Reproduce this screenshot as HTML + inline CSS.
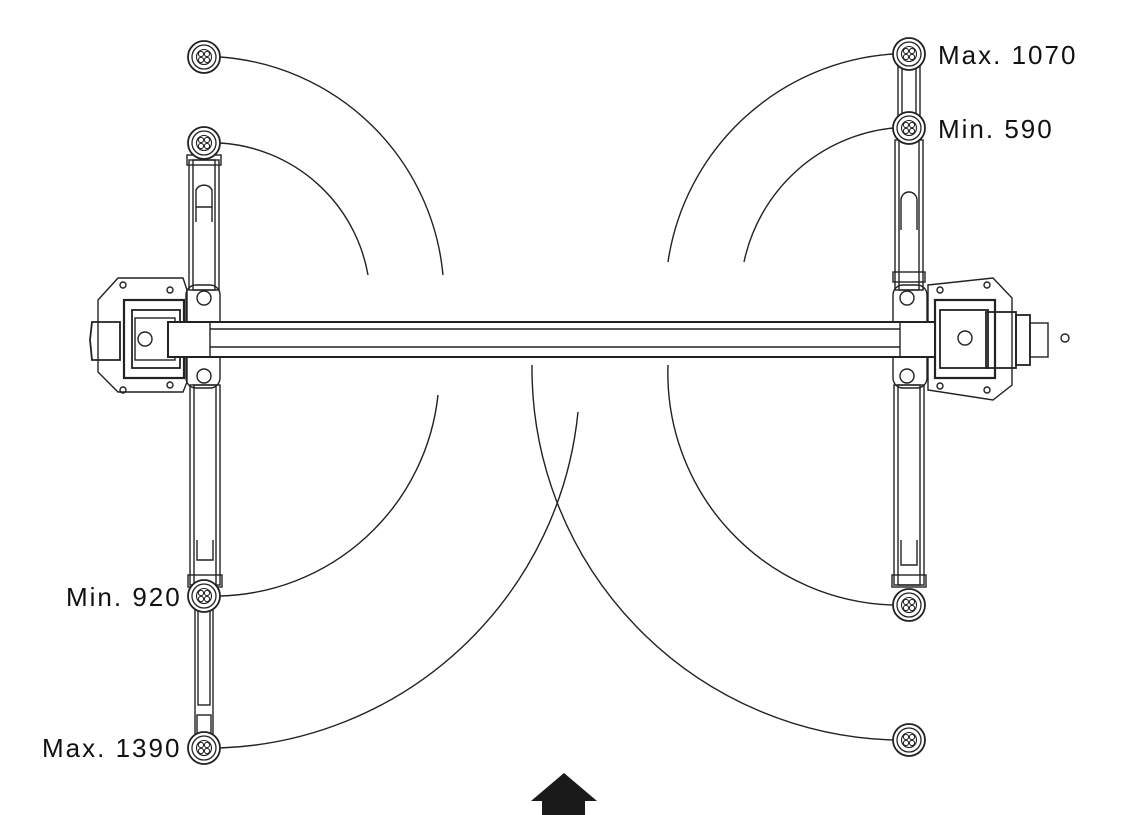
<!DOCTYPE html>
<html><head><meta charset="utf-8"><style>
html,body{margin:0;padding:0;background:#fff}
svg{display:block}
text{font-family:"Liberation Sans",sans-serif;font-size:26px;letter-spacing:2px;fill:#111}
</style></head><body>
<svg width="1127" height="815" viewBox="0 0 1127 815" xmlns="http://www.w3.org/2000/svg">
<defs>
<g id="pad">
<circle r="16" fill="#fff" stroke="#222" stroke-width="1.8"/>
<circle r="12" fill="none" stroke="#222" stroke-width="1.3"/>
<circle r="7.5" fill="none" stroke="#222" stroke-width="1.1"/>
<circle cx="-3" cy="-3" r="2.6" fill="none" stroke="#222" stroke-width="1"/>
<circle cx="3" cy="-3" r="2.6" fill="none" stroke="#222" stroke-width="1"/>
<circle cx="-3" cy="3" r="2.6" fill="none" stroke="#222" stroke-width="1"/>
<circle cx="3" cy="3" r="2.6" fill="none" stroke="#222" stroke-width="1"/>
</g>
</defs>
<g fill="none" stroke="#222" stroke-width="1.4">
<path d="M220 57 A241 241 0 0 1 443 275"/>
<path d="M220 143 A160 160 0 0 1 368 275"/>
<path d="M220 596 A225 225 0 0 0 438 395"/>
<path d="M220 748 A373 373 0 0 0 578 412"/>
<path d="M893 54 A244 244 0 0 0 668 262"/>
<path d="M893 128 A170 170 0 0 0 744 262"/>
<path d="M893 605 A232 232 0 0 1 668 365"/>
<path d="M893 740 A372 372 0 0 1 532 365"/>

<rect x="189" y="160" width="30" height="130"/>
<rect x="193" y="160" width="22" height="130"/>
<path d="M196 222 V190 A9 9 0 0 1 212 190 V222 M196 207 H212"/>
<rect x="187" y="155" width="34" height="10"/>
<rect x="190" y="385" width="30" height="200"/>
<rect x="194" y="385" width="22" height="200"/>
<path d="M197 540 V560 H213 V540"/>
<rect x="188" y="575" width="34" height="12"/>
<rect x="195" y="605" width="18" height="135"/>
<rect x="198" y="605" width="12" height="100"/>
<rect x="197" y="715" width="14" height="18"/>

<rect x="898" y="65" width="22" height="55"/>
<rect x="902" y="65" width="14" height="55"/>
<rect x="895" y="140" width="28" height="150"/>
<rect x="899" y="140" width="20" height="150"/>
<path d="M901 230 V200 A8 8 0 0 1 917 200 V230"/>
<rect x="893" y="272" width="32" height="10"/>
<rect x="894" y="385" width="30" height="200"/>
<rect x="898" y="385" width="22" height="200"/>
<path d="M901 540 V565 H917 V540"/>
<rect x="892" y="575" width="34" height="12"/>

<path d="M98 300 L118 278 L183 278 L187 290 L187 382 L183 392 L118 392 L98 372 Z"/>
<path d="M92 322 H120 V360 H92 L90 340 Z" stroke-width="1.8"/>
<rect x="124" y="300" width="60" height="78" stroke-width="2.2"/>
<rect x="132" y="310" width="48" height="58" stroke-width="1.8"/>
<rect x="135" y="318" width="40" height="42"/>
<circle cx="145" cy="339" r="7"/>
<rect x="186" y="285" width="34" height="103" rx="10"/>
<circle cx="204" cy="298" r="7"/>
<circle cx="204" cy="376" r="7"/>
<circle cx="123" cy="285" r="3"/><circle cx="170" cy="290" r="3"/>
<circle cx="123" cy="390" r="3"/><circle cx="170" cy="385" r="3"/>

<path d="M928 285 L993 278 L1012 298 L1012 385 L993 400 L928 390 Z"/>
<rect x="935" y="300" width="60" height="78" stroke-width="2.2"/>
<rect x="940" y="310" width="48" height="58" stroke-width="1.8"/>
<circle cx="965" cy="338" r="7"/>
<rect x="986" y="312" width="30" height="56" stroke-width="1.8"/>
<rect x="1016" y="315" width="14" height="50" stroke-width="1.8"/>
<rect x="1030" y="323" width="18" height="34"/>
<circle cx="1065" cy="338" r="4"/>
<rect x="893" y="285" width="34" height="103" rx="10"/>
<circle cx="907" cy="298" r="7"/>
<circle cx="907" cy="376" r="7"/>
<circle cx="940" cy="290" r="3"/><circle cx="987" cy="285" r="3"/>
<circle cx="940" cy="386" r="3"/><circle cx="987" cy="390" r="3"/>

<rect x="168" y="322" width="767" height="35" fill="#fff" stroke-width="2"/>
<line x1="210" y1="329" x2="900" y2="329"/>
<line x1="210" y1="347" x2="900" y2="347"/>
<rect x="168" y="322" width="42" height="35"/>
<rect x="900" y="322" width="35" height="35"/>
</g>

<use href="#pad" x="204" y="57"/>
<use href="#pad" x="204" y="143"/>
<use href="#pad" x="204" y="596"/>
<use href="#pad" x="204" y="748"/>
<use href="#pad" x="909" y="54"/>
<use href="#pad" x="909" y="128"/>
<use href="#pad" x="909" y="605"/>
<use href="#pad" x="909" y="740"/>

<path d="M564 773 L597 801 L585 801 L585 815 L542 815 L542 801 L531 801 Z" fill="#1a1a1a"/>

<text x="938" y="64">Max. 1070</text>
<text x="938" y="138">Min. 590</text>
<text x="66" y="606">Min. 920</text>
<text x="42" y="757">Max. 1390</text>
</svg>
</body></html>
